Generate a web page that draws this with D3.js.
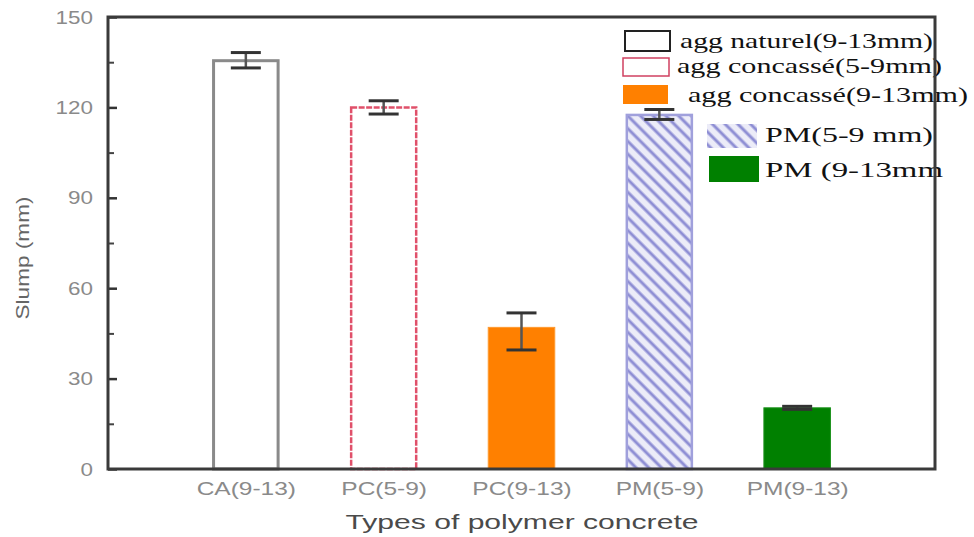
<!DOCTYPE html>
<html>
<head>
<meta charset="utf-8">
<script src="https://cdn.jsdelivr.net/npm/d3@7"></script>
<style>
  html, body { margin: 0; padding: 0; background: #fff; }
  svg { display: block; }
</style>
</head>
<body>
<svg id="chart" width="974" height="537"></svg>
<script>
// Slump of polymer concrete mixes
const categories = ["CA(9-13)", "PC(5-9)", "PC(9-13)", "PM(5-9)", "PM(9-13)"];
const slump      = [135.5, 120, 47, 117.5, 20.3];
const errUp      = [2.7, 2.2, 4.8, 1.8, 0.5];
const errDown    = [2.4, 2.2, 7.5, 1.5, 0.5];
const yTicks     = [0, 30, 60, 90, 120, 150];
const yMinor     = [15, 45, 75, 105, 135];
const legendLabels = ["agg naturel(9-13mm)", "agg concassé(5-9mm)", "agg concassé(9-13mm)", "PM(5-9 mm)", "PM (9-13mm"];

// per-bar styling
const barStyles = [
  { fill: "#ffffff", stroke: "#8a8a8a", sw: 3 },
  { fill: "#ffffff", stroke: "#e0506a", sw: 2.5 },
  { fill: "#ff8000", stroke: "#ff9a30", sw: 1 },
  { fill: "url(#hatch)", stroke: "#a0a0dc", sw: 2.5 },
  { fill: "#008000", stroke: "#1a901a", sw: 1 }
];

const W = 974, H = 537;
const margin = { top: 17, right: 39, bottom: 68, left: 108 };
const svg = d3.select("#chart");

const x = d3.scalePoint().domain(categories)
  .range([margin.left, W - margin.right]).padding(1);
const y = d3.scaleLinear().domain([0, 150])
  .range([H - margin.bottom, margin.top]);
const barW = x.step() * 0.49;

// widen a text element horizontally by factor k
function stretch(sel, k) {
  sel.each(function () {
    const w = this.getComputedTextLength();
    d3.select(this).attr("textLength", w * k).attr("lengthAdjust", "spacingAndGlyphs");
  });
}

// hatch pattern
const defs = svg.append("defs");
const pat = defs.append("pattern")
  .attr("id", "hatch").attr("patternUnits", "userSpaceOnUse")
  .attr("width", 9).attr("height", 9)
  .attr("patternTransform", "rotate(-45)");
pat.append("rect").attr("width", 9).attr("height", 9).attr("fill", "#ececf8");
pat.append("line").attr("x1", 2).attr("y1", 0).attr("x2", 2).attr("y2", 9)
  .attr("stroke", "#8e8ed4").attr("stroke-width", 3);

// bars
const bars = svg.append("g");
categories.forEach((c, i) => {
  const s = barStyles[i];
  bars.append("rect")
    .attr("x", x(c) - barW / 2 + s.sw / 2)
    .attr("y", y(slump[i]))
    .attr("width", barW - s.sw)
    .attr("height", y(0) - y(slump[i]))
    .attr("fill", s.fill)
    .attr("stroke", s.stroke)
    .attr("stroke-width", s.sw)
    .attr("stroke-dasharray", i === 1 ? "6,1.5" : null);
});

// error bars
const eb = svg.append("g").attr("stroke", "#333").attr("stroke-width", 3);
categories.forEach((c, i) => {
  const cx = x(c), cap = 15;
  const hi = y(slump[i] + errUp[i]), lo = y(slump[i] - errDown[i]);
  eb.append("line").attr("x1", cx).attr("x2", cx).attr("y1", hi).attr("y2", lo)
    .attr("stroke-width", 2.5).attr("stroke", "#555");
  eb.append("line").attr("x1", cx - cap).attr("x2", cx + cap).attr("y1", hi).attr("y2", hi);
  eb.append("line").attr("x1", cx - cap).attr("x2", cx + cap).attr("y1", lo).attr("y2", lo);
});

// legend
const legendBoxes = [
  { x: 625, y: 31, w: 45, h: 20, fill: "#fff", stroke: "#222", sw: 2 },
  { x: 623, y: 58, w: 46, h: 18, fill: "#fff", stroke: "#d04060", sw: 1.5 },
  { x: 623, y: 85, w: 45, h: 19, fill: "#ff8000", stroke: "none", sw: 0 },
  { x: 707, y: 124, w: 50, h: 24, fill: "url(#hatch)", stroke: "none", sw: 0 },
  { x: 709, y: 156, w: 50, h: 26, fill: "#008000", stroke: "none", sw: 0 }
];
const legendText = [
  { x: 680, y: 48, len: 253 },
  { x: 677, y: 73, len: 265 },
  { x: 688, y: 102, len: 280 },
  { x: 765, y: 142, len: 168 },
  { x: 765, y: 177, len: 178 }
];
const lg = svg.append("g");
legendLabels.forEach((t, i) => {
  const b = legendBoxes[i], tx = legendText[i];
  lg.append("rect").attr("x", b.x).attr("y", b.y).attr("width", b.w).attr("height", b.h)
    .attr("fill", b.fill).attr("stroke", b.stroke).attr("stroke-width", b.sw);
  lg.append("text").attr("x", tx.x).attr("y", tx.y)
    .attr("font-family", "Liberation Serif, Times New Roman, serif")
    .attr("font-size", 21).attr("fill", "#111")
    .attr("textLength", tx.len).attr("lengthAdjust", "spacingAndGlyphs")
    .text(t);
});

// y axis ticks (inward) and labels
const ax = svg.append("g");
const yAxis = d3.axisLeft(y).tickValues(yTicks).tickSize(-9).tickPadding(15);
ax.append("g").attr("transform", `translate(${margin.left},0)`).call(yAxis)
  .call(g => g.select(".domain").remove())
  .call(g => g.selectAll(".tick line").attr("stroke", "#333").attr("stroke-width", 2.5))
  .call(g => g.selectAll(".tick text").attr("font-family", "Liberation Sans, Arial, sans-serif")
    .attr("font-size", 19).attr("fill", "#8a8a8a").call(stretch, 1.18));
ax.append("g").attr("transform", `translate(${margin.left},0)`)
  .call(d3.axisLeft(y).tickValues(yMinor).tickSize(-6).tickFormat(""))
  .call(g => g.select(".domain").remove())
  .call(g => g.selectAll(".tick line").attr("stroke", "#444").attr("stroke-width", 2));

// x axis labels
ax.append("g").attr("transform", `translate(0,${H - margin.bottom})`)
  .call(d3.axisBottom(x).tickSize(0).tickPadding(13))
  .call(g => g.select(".domain").remove())
  .call(g => g.selectAll(".tick text").attr("font-family", "Liberation Sans, Arial, sans-serif")
    .attr("font-size", 18).attr("fill", "#8a8a8a").call(stretch, 1.36));

// frame
svg.append("rect")
  .attr("x", margin.left).attr("y", margin.top)
  .attr("width", W - margin.left - margin.right)
  .attr("height", H - margin.top - margin.bottom)
  .attr("fill", "none").attr("stroke", "#3a3a3a").attr("stroke-width", 3);

// axis titles
svg.append("text").attr("x", 522).attr("y", 529)
  .attr("text-anchor", "middle")
  .attr("font-family", "Liberation Sans, Arial, sans-serif")
  .attr("font-size", 20).attr("fill", "#4a4a4a")
  .attr("textLength", 353).attr("lengthAdjust", "spacingAndGlyphs")
  .text("Types of polymer concrete");
svg.append("text")
  .attr("transform", `translate(29,258) rotate(-90)`)
  .attr("text-anchor", "middle")
  .attr("font-family", "Liberation Sans, Arial, sans-serif")
  .attr("font-size", 18).attr("fill", "#666")
  .attr("textLength", 123).attr("lengthAdjust", "spacingAndGlyphs")
  .text("Slump (mm)");
</script>
</body>
</html>
